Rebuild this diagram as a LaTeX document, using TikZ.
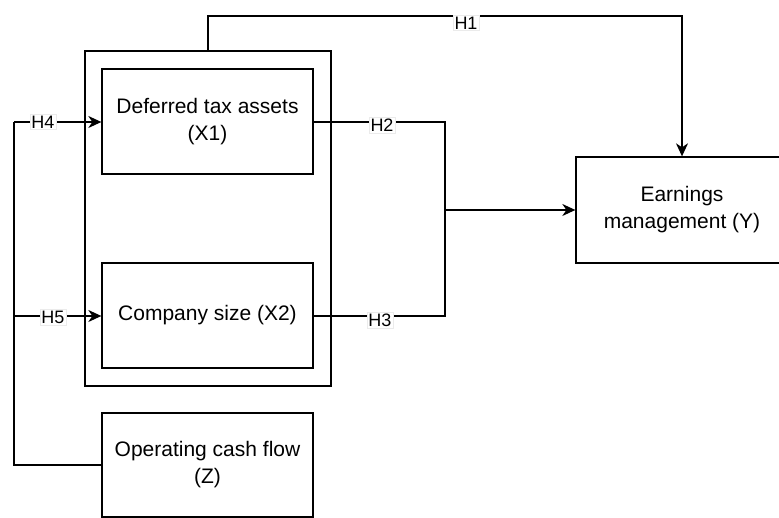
\documentclass[tikz,border=0pt]{standalone}
\usepackage{fontspec}
\setmainfont{Liberation Sans}
\usetikzlibrary{arrows.meta}
\begin{document}
\begin{tikzpicture}[x=1pt,y=-1pt,
  box/.style={draw,line width=1.3pt,minimum width=211pt,minimum height=105pt,align=center,
    font=\fontsize{21}{27}\selectfont,inner sep=0pt},
  conn/.style={line width=1.3pt},
  arr/.style={conn,-{Stealth[length=13pt,width=12pt,inset=4pt]}},
  lbl/.style={fill=white,draw=black!8,line width=0.5pt,font=\fontsize{18}{20}\selectfont,inner sep=1.5pt}]
\useasboundingbox (0,0) rectangle (779,518);
\node[draw,line width=1.3pt,minimum width=246pt,minimum height=335pt,inner sep=0pt] (outer) at (208,218.5) {};
\node[box] (x1) at (207.5,121.5) {Deferred tax assets\\(X1)};
\node[box] (x2) at (207.5,315.5) {Company size (X2)};
\node[box,minimum height=104pt] (z) at (207.5,465) {Operating cash flow\\(Z)};
\node[box,minimum width=212pt,minimum height=106pt] (y) at (682,210) {Earnings\\management (Y)};
% H1
\coordinate (h1a) at (208,16);
\coordinate (h1b) at (682,16);
\draw[arr] (outer.north) -- (h1a) -- (h1b) -- (y.north);
\node[lbl] (lh1) at (466,23) {H1};
% H2 / H3
\coordinate (j2) at (445,122);
\coordinate (j3) at (445,316);
\coordinate (jm) at (445,210);
\draw[conn] (x1.east |- j2) -- (j2) -- (j3) -- (x2.east |- j3);
\draw[arr] (jm) -- (y.west);
\node[lbl] (lh2) at (382,125) {H2};
\node[lbl] (lh3) at (380,320) {H3};
% H4 / H5
\coordinate (l4) at (14,122);
\coordinate (l5) at (14,316);
\coordinate (lz) at (14,465);
\draw[conn] (l4) -- (lz) -- (z.west);
\draw[arr] (l4) -- (x1.west |- l4);
\draw[arr] (l5) -- (x2.west |- l5);
\node[lbl] (lh4) at (43,122) {H4};
\node[lbl] (lh5) at (53,317) {H5};
\end{tikzpicture}
\end{document}
